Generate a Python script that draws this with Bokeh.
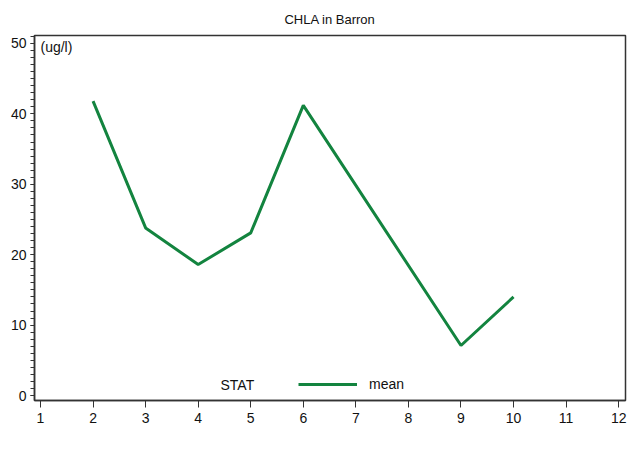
from bokeh.plotting import figure
from bokeh.models import FixedTicker, Label, Legend, LegendItem, Range1d
from bokeh.embed import file_html
from bokeh.resources import INLINE

# Data
months = [2, 3, 4, 5, 6, 9, 10]
mean_chla = [41.8, 23.8, 18.6, 23.1, 41.2, 7.1, 14.0]
x_ticks = list(range(1, 13))
y_ticks = [0, 10, 20, 30, 40, 50]
title_text = "CHLA in Barron"
unit_text = "(ug/l)"
legend_title = "STAT"
series_name = "mean"

FONT = "Liberation Sans"
GREEN = "#13843f"
W, H = 627, 458

p = figure(width=W, height=H, output_backend="svg", toolbar_location=None,
           x_range=Range1d(0.886, 12.13), y_range=Range1d(-0.71, 51.13),
           min_border_left=34, min_border_right=2, min_border_top=34, min_border_bottom=58)

p.title.text = title_text
p.title.align = "center"
p.title.text_font = FONT
p.title.text_font_size = "13px"
p.title.text_font_style = "normal"
p.title.text_color = "#111111"
p.title.standoff = 18

r = p.line(months, mean_chla, line_color=GREEN, line_width=3)

p.grid.visible = False
p.outline_line_color = "#333333"
p.outline_line_width = 1.5

p.xaxis.ticker = FixedTicker(ticks=x_ticks)
p.yaxis.ticker = FixedTicker(ticks=y_ticks, minor_ticks=list(range(0, 52)))
for ax in (p.xaxis[0], p.yaxis[0]):
    ax.major_label_text_font = FONT
    ax.major_label_text_font_size = "14px"
    ax.major_label_text_color = "#111111"
    ax.axis_line_color = "#333333"
    ax.axis_line_width = 1.5
    ax.major_tick_line_color = "#333333"
    ax.minor_tick_line_color = "#333333"
    ax.major_tick_in = 0
    ax.minor_tick_in = 0
p.xaxis.major_tick_out = 7
p.xaxis.minor_tick_out = 0
p.xaxis.major_label_standoff = 5
p.yaxis.major_tick_out = 4
p.yaxis.minor_tick_out = 4
p.yaxis.major_label_standoff = 4

# unit text, kept inside the frame (annotations outside it are clipped)
unit = Label(x=6, y=354, x_units="screen", y_units="screen", text=unit_text,
             text_font=FONT, text_font_size="14px", text_baseline="middle",
             text_color="#111111")
p.add_layout(unit)

stat = Label(x=186, y=16, x_units="screen", y_units="screen", text=legend_title,
             text_font=FONT, text_font_size="14px", text_baseline="middle",
             text_color="#111111")
p.add_layout(stat)

legend = Legend(items=[LegendItem(label=series_name, renderers=[r])],
                location=(264, 6), orientation="horizontal",
                glyph_width=59, glyph_height=20, label_standoff=12,
                padding=0, margin=0, spacing=0,
                border_line_color=None, background_fill_alpha=0,
                label_text_font=FONT, label_text_font_size="14px",
                label_text_color="#111111")
p.add_layout(legend)

open("out.html", "w").write(file_html(p, INLINE))
